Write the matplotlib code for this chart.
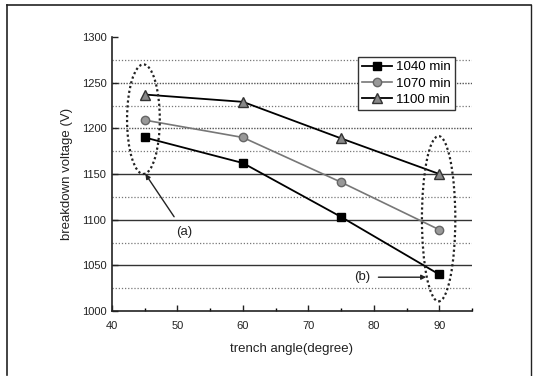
import matplotlib
matplotlib.use("Agg")
import matplotlib.pyplot as plt
from matplotlib.patches import Ellipse
from matplotlib.lines import Line2D

plt.rcParams['font.family'] = ['Liberation Sans', 'DejaVu Sans']

angles = [45, 60, 75, 90]
v1040 = [1190, 1162, 1103, 1040]
v1070 = [1209, 1190, 1141, 1089]
v1100 = [1237, 1229, 1189, 1150]
labels = ['1040 min', '1070 min', '1100 min']
xticks = [40, 50, 60, 70, 80, 90]
yticks = [1000, 1050, 1100, 1150, 1200, 1250, 1300]

W, H = 533, 376
fig = plt.figure(figsize=(W / 100, H / 100), dpi=100)
ax = fig.add_axes([112 / W, 1 - 311 / H, (472 - 112) / W, (311 - 37) / H])

# outer frame
fig.add_artist(Line2D([7 / W, 7 / W], [1 - 5 / H, 1 - 375 / H], transform=fig.transFigure, color='#222', lw=1.2))
fig.add_artist(Line2D([7 / W, 531 / W], [1 - 5 / H, 1 - 5 / H], transform=fig.transFigure, color='#222', lw=1.2))
fig.add_artist(Line2D([531 / W, 531 / W], [1 - 5 / H, 1 - 375 / H], transform=fig.transFigure, color='#222', lw=1.0))

ax.set_xlim(40, 95)
ax.set_ylim(1000, 1300)

# grid lines
for y in range(1025, 1300, 25):
    if y in (1050, 1100, 1150):
        ax.axhline(y, color='#333', lw=1.0, ls='-', zorder=0)
    elif y % 50 == 0:
        ax.axhline(y, color='#555', lw=1.0, ls=(0, (1, 1)), zorder=0)
    else:
        ax.axhline(y, color='#777', lw=0.9, ls=(0, (1, 1.5)), zorder=0)

ax.plot(angles, v1040, color='black', lw=1.3, marker='s', ms=6, mfc='black', mec='black', label=labels[0], zorder=3)
ax.plot(angles, v1070, color='#777', lw=1.2, marker='o', ms=6, mfc='#999', mec='#666', label=labels[1], zorder=3)
ax.plot(angles, v1100, color='black', lw=1.3, marker='^', ms=7, mfc='#888', mec='#333', label=labels[2], zorder=3)

for s in ['top', 'right']:
    ax.spines[s].set_visible(False)
for s in ['left', 'bottom']:
    ax.spines[s].set_color('#222')
    ax.spines[s].set_linewidth(1.2)

ax.set_xticks(xticks)
ax.set_xticks([45, 55, 65, 75, 85, 95], minor=True)
ax.set_yticks(yticks)
ax.set_yticks([1025, 1075, 1125, 1175, 1225, 1275], minor=True)
ax.tick_params(direction='in', length=4, width=1, labelsize=8, colors='#222', pad=4)
ax.tick_params(axis='x', pad=7)
ax.tick_params(which='minor', direction='in', length=2.5, width=1)
ax.tick_params(axis='y', which='minor', length=0)

ax.set_xlabel('trench angle(degree)', fontsize=9.5, color='#222', labelpad=9)
ax.set_ylabel('breakdown voltage (V)', fontsize=9.5, color='#222', labelpad=6)

leg = ax.legend(loc='upper right', bbox_to_anchor=(455 / W, 1 - 57 / H), bbox_transform=fig.transFigure,
                fontsize=9.6, frameon=True, fancybox=False, borderpad=0.3, labelspacing=0.3,
                handlelength=2.2, handletextpad=0.35, borderaxespad=0)
leg.get_frame().set_edgecolor('#333')
leg.get_frame().set_linewidth(1.0)
leg.get_frame().set_alpha(1)

# ellipses
ax.add_patch(Ellipse((44.8, 1210), 5.0, 120, fill=False, ls=(0, (1, 1.2)), lw=1.6, color='#222', zorder=4))
ax.add_patch(Ellipse((89.9, 1101), 5.1, 181, fill=False, ls=(0, (1, 1.2)), lw=1.6, color='#222', zorder=4))

ax.annotate('(a)', xy=(45.1, 1150), xytext=(51.1, 1086), fontsize=9.5, ha='center', va='center', color='#222',
            arrowprops=dict(arrowstyle='-|>', color='#222', lw=1.0, shrinkA=6, shrinkB=0, mutation_scale=7))
ax.annotate('(b)', xy=(88.0, 1037), xytext=(78.2, 1037), fontsize=9.5, ha='center', va='center', color='#222',
            arrowprops=dict(arrowstyle='-|>', color='#222', lw=1.0, shrinkA=4, shrinkB=0, mutation_scale=7))

fig.savefig('out.png', dpi=100)
